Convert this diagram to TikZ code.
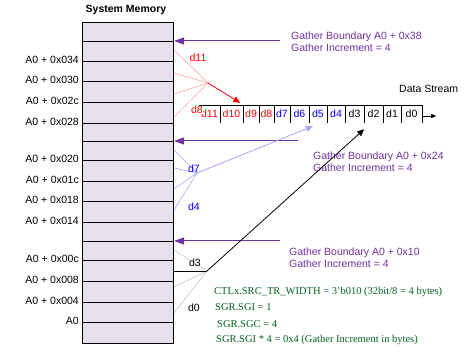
\documentclass[tikz,border=0pt]{standalone}
\usepackage{fontspec}
\setmainfont{Liberation Sans}
\newfontfamily\tnr{Liberation Serif}
\usepackage{tikz}
\usetikzlibrary{arrows.meta,calc,positioning}
\definecolor{memfill}{RGB}{229,224,236}
\definecolor{gbc}{RGB}{112,48,160}
\definecolor{sgrc}{RGB}{0,100,30}
\definecolor{pinkln}{RGB}{255,165,165}
\definecolor{blueln}{RGB}{165,165,255}
\definecolor{grayln}{RGB}{195,195,195}
\newcommand{\fs}{\fontsize{10.5}{12}\selectfont}

\begin{document}
\begin{tikzpicture}[x=1pt,y=-1pt,>={Triangle[length=7pt,width=6pt]},
  txt/.style={font=\fs,inner sep=0pt},
  addr/.style={txt,anchor=east},
  cell/.style={txt,minimum height=18pt},
  gbtxt/.style={txt,text=gbc,align=left,anchor=north west},
  sgrtxt/.style={font=\tnr\fs,text=sgrc,inner sep=0pt,anchor=west},
  gbarrow/.style={gbc,line width=1pt,-{Triangle[length=10pt,width=7pt]}}]
  \useasboundingbox (0,0) rectangle (472,358);
  % system memory
  \node[txt,font=\fs\bfseries] (title) at (126,10) {System Memory};
  \node[draw,fill=memfill,line width=1pt,minimum width=91pt,minimum height=321pt,anchor=north west,inner sep=0pt] (mem) at (82,22) {};
  \foreach \y in {41,61,81,102,123,141,160,181,201,222,241,260,281,302,322}
    \draw[line width=0.9pt] (mem.west |- 0,\y) -- (mem.east |- 0,\y);
  \foreach \y/\t in {61/A0 + 0x034,81/A0 + 0x030,102/A0 + 0x02c,123/A0 + 0x028,
                     160/A0 + 0x020,181/A0 + 0x01c,201/A0 + 0x018,222/A0 + 0x014,
                     260/A0 + 0x00c,281/A0 + 0x008,302/A0 + 0x004,322/A0}
    \node[addr] (a\y) at (79,\y-1.5) {\t};
  % data stream
  \foreach \n/\a/\b/\c in {11/199/220/red,10/220/243/red,9/243/259/red,8/259/274/red,
                           7/274/290/blue,6/290/309/blue,5/309/327/blue,4/327/345/blue,
                           3/345/364/black,2/364/383/black,1/383/401/black,0/401/422/black}
    {\pgfmathsetmacro{\w}{\b-\a} \node[cell,text=\c,minimum width=\w pt] (c\n) at ({(\a+\b)/2},114) {d\n};}
  \draw (c11.north west) -- (c0.north east);
  \draw (c11.north west) -- ++(0,4);
  \foreach \n in {0,...,11} \draw (c\n.north east) -- (c\n.south east);
  \coordinate (dsend) at ([yshift=-2pt]c0.east);
  \coordinate (dstip) at ([xshift=14pt]dsend);
  \draw[-{Triangle[length=5pt,width=4pt]}] (dsend) -- (dstip);
  \node[txt,anchor=west] (ds) at (399,89) {Data Stream};
  % gather boundaries
  \foreach \k/\x/\y in {1/280/41,2/298/141,3/280/241} {\coordinate (gb\k) at (\x,\y); \draw[gbarrow] (gb\k) -- (mem.east |- gb\k);}
  \node[gbtxt] (gbt1) at (291,32) {Gather Boundary A0 + 0x38\\Gather Increment = 4};
  \node[gbtxt] (gbt2) at (313,152) {Gather Boundary A0 + 0x24\\Gather Increment = 4};
  \node[gbtxt] (gbt3) at (289,248) {Gather Boundary A0 + 0x10\\Gather Increment = 4};
  % d11..d8
  \coordinate (rfan) at (208,83);
  \foreach \y in {50,73,94,117} {\coordinate (pr\y) at (mem.east |- 0,\y); \draw[pinkln,line width=0.6pt] (pr\y) -- (rfan);}
  \draw[->,red,line width=0.8pt] (rfan) -- ([xshift=-3pt,yshift=2pt]c10.north east);
  \node[txt,text=red] (l11) at (198,58) {d11};
  \node[txt,text=red,fill=white] (l8) at (197,110) {d8};
  % d7..d4
  \coordinate (bfan) at (197,173);
  \foreach \y in {150,168,189,210} {\coordinate (pb\y) at (mem.east |- 0,\y); \draw[blueln,line width=0.6pt] (pb\y) -- (bfan);}
  \draw[->,blueln,line width=0.8pt] (bfan) -- ([xshift=4pt,yshift=-3pt]c5.south west);
  \node[txt,text=blue] (l7) at (194,169) {d7};
  \node[txt,text=blue] (l4) at (194,207) {d4};
  % d3..d0
  \coordinate (gfan) at (207,271);
  \foreach \y in {250,287,313} {\coordinate (pg\y) at (mem.east |- 0,\y); \draw[grayln,line width=0.6pt] (pg\y) -- (gfan);}
  \draw[line width=0.8pt] (mem.east |- gfan) -- (gfan);
  \draw[->,line width=0.8pt] (gfan) -- ([yshift=-6pt]c3.south east);
  \node[txt] (l3) at (195,263) {d3};
  \node[txt] (l0) at (194,308) {d0};
  % register settings
  \node[sgrtxt] (s1) at (214,292) {CTLx.SRC\_TR\_WIDTH = 3’b010 (32bit/8 = 4 bytes)};
  \node[sgrtxt] (s2) at (215,307) {SGR.SGI = 1};
  \node[sgrtxt] (s3) at (217,324) {SGR.SGC = 4};
  \node[sgrtxt] (s4) at (216,340) {SGR.SGI * 4 = 0x4 (Gather Increment in bytes)};
\end{tikzpicture}
\end{document}
